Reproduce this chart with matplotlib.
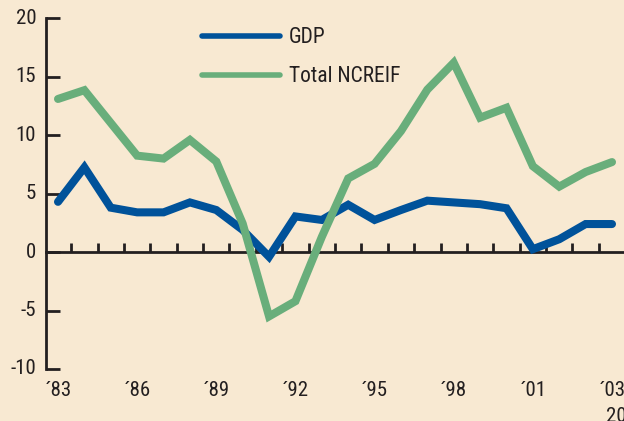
import matplotlib
matplotlib.use("Agg")
import matplotlib.pyplot as plt
from matplotlib.lines import Line2D
from matplotlib import font_manager

_names = {f.name for f in font_manager.fontManager.ttflist}
_narrow = None
for cand in ['Liberation Sans Narrow', 'Arial Narrow', 'Roboto Condensed', 'DejaVu Sans Condensed']:
    if cand in _names:
        _narrow = cand
        break
if _narrow:
    plt.rcParams['font.family'] = [_narrow, 'DejaVu Sans']
    FS = 15
else:
    plt.rcParams['font.family'] = ['Liberation Sans', 'DejaVu Sans']
    FS = 14

years = list(range(1983, 2005))
gdp = [4.3, 7.25, 3.8, 3.4, 3.4, 4.25, 3.6, 1.9, -0.4, 3.05, 2.75, 4.05,
       2.75, 3.6, 4.4, 4.25, 4.1, 3.75, 0.25, 1.1, 2.4, 2.4]
ncreif = [13.1, 13.85, 11.05, 8.25, 8.0, 9.6, 7.75, 2.45, -5.5, -4.2, 1.3, 6.3,
          7.55, 10.35, 13.9, 16.2, 11.5, 12.35, 7.35, 5.6, 6.85, 7.7]
xlabel_pos = [1983, 1986, 1989, 1992, 1995, 1998, 2001, 2004]
xlabels = ['´83', '´86', '´89', '´92', '´95', '´98', '´01', '´03']
yticks = [-10, -5, 0, 5, 10, 15, 20]
series_names = ['GDP', 'Total NCREIF']

BG = '#f8e9d2'
BLUE = '#00529a'
GREEN = '#69ae7b'
INK = '#231f20'

fig = plt.figure(figsize=(6.24, 4.21), dpi=100, facecolor=BG)
ax = fig.add_axes([46/624, 52/421, 578/624, 350.7/421])
ax.set_facecolor(BG)

ax.plot(years, gdp, color=BLUE, lw=5.8, solid_capstyle='round', solid_joinstyle='miter', zorder=3)
ax.plot(years, ncreif, color=GREEN, lw=5.8, solid_capstyle='round', solid_joinstyle='miter', zorder=3)

ax.set_xlim(1983 - 0.455, 2004 + 0.455)
ax.set_ylim(-10, 20)

for s in ['top', 'right']:
    ax.spines[s].set_visible(False)
ax.spines['left'].set_color(INK)
ax.spines['left'].set_linewidth(2.0)
ax.spines['bottom'].set_position(('data', 0))
ax.spines['bottom'].set_color(INK)
ax.spines['bottom'].set_linewidth(2.0)

ax.set_yticks(yticks)
ax.set_yticklabels([str(v) for v in yticks])
ax.tick_params(axis='y', direction='in', length=10, width=2.0, color=INK,
               pad=7, labelsize=FS, labelcolor=INK)
for t in ax.get_yticklabels():
    t.set_va('center')

ax.set_xticks([y + 0.5 for y in years[:-1]])
ax.tick_params(axis='x', direction='in', length=6.5, width=2.0, color=INK,
               labelbottom=False)

sec = ax.secondary_xaxis('bottom')
sec.spines['bottom'].set_visible(False)
sec.set_xticks(xlabel_pos)
sec.set_xticklabels(xlabels)
sec.tick_params(axis='x', length=0, pad=9, labelsize=FS, labelcolor=INK)

ax.annotate('2004', xy=(2004, -10), xytext=(-4, -27), textcoords='offset points',
            ha='left', va='top', fontsize=FS, color=INK, annotation_clip=False)

handles = [Line2D([], [], color=BLUE, lw=4, solid_capstyle='round'),
           Line2D([], [], color=GREEN, lw=4, solid_capstyle='round')]
leg = ax.legend(handles, series_names, loc='upper left', bbox_to_anchor=(0.27, 0.975),
                frameon=False, fontsize=FS + 0.5, handlelength=3.6, handletextpad=0.45,
                labelspacing=0.85, borderpad=0, borderaxespad=0)
for t in leg.get_texts():
    t.set_color(INK)

fig.savefig('out.png', dpi=100, facecolor=BG)
